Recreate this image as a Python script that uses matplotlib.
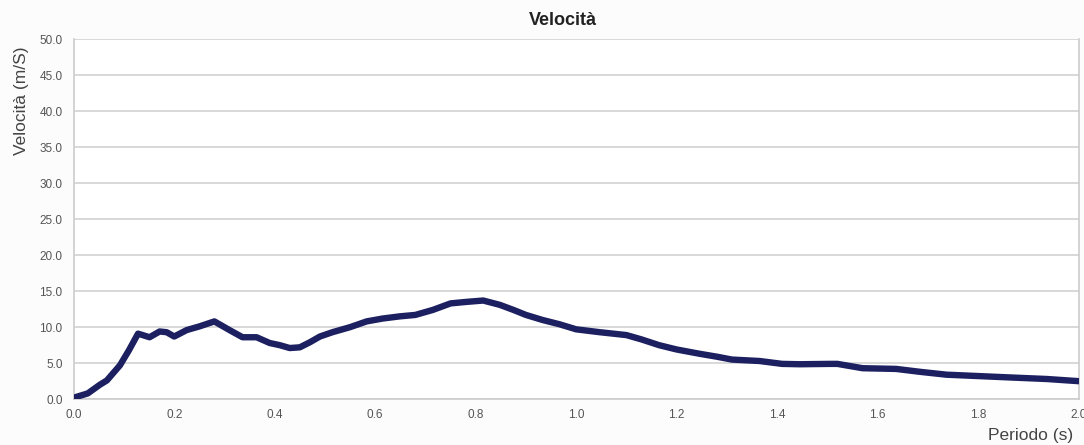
import matplotlib
matplotlib.use("Agg")
import matplotlib.pyplot as plt
from matplotlib.ticker import FormatStrFormatter

periodo = [0.0, 0.028, 0.052, 0.066, 0.092, 0.11, 0.128, 0.151, 0.171, 0.185, 0.2,
           0.225, 0.25, 0.28, 0.31, 0.336, 0.364, 0.39, 0.41, 0.43, 0.45, 0.47,
           0.49, 0.515, 0.55, 0.583, 0.615, 0.649, 0.68, 0.715, 0.75, 0.78, 0.815,
           0.848, 0.875, 0.9, 0.933, 0.967, 1.0, 1.047, 1.1, 1.13, 1.165, 1.2,
           1.246, 1.28, 1.31, 1.365, 1.41, 1.445, 1.504, 1.52, 1.57, 1.637, 1.684,
           1.737, 1.803, 1.869, 1.937, 2.0]
velocita = [0.2, 0.8, 2.0, 2.6, 4.7, 6.8, 9.1, 8.6, 9.4, 9.3, 8.7,
            9.6, 10.1, 10.8, 9.6, 8.6, 8.6, 7.8, 7.5, 7.1, 7.2, 7.9,
            8.7, 9.3, 10.0, 10.8, 11.2, 11.5, 11.7, 12.4, 13.3, 13.5, 13.7,
            13.1, 12.4, 11.7, 11.0, 10.4, 9.7, 9.3, 8.9, 8.3, 7.5, 6.9,
            6.3, 5.9, 5.5, 5.3, 4.9, 4.85, 4.9, 4.9, 4.3, 4.2, 3.8,
            3.4, 3.2, 3.0, 2.8, 2.5]
x_ticks = [0.0, 0.2, 0.4, 0.6, 0.8, 1.0, 1.2, 1.4, 1.6, 1.8, 2.0]
y_ticks = [0, 5, 10, 15, 20, 25, 30, 35, 40, 45, 50]

plt.rcParams["font.family"] = ["Liberation Sans", "DejaVu Sans"]

fig = plt.figure(figsize=(10.84, 4.45), dpi=100)
fig.patch.set_facecolor("#fcfcfc")
ax = fig.add_axes([0.068, 0.103, 0.927, 0.809])
ax.set_facecolor("white")

ax.plot(periodo, velocita, color="#1c2060", linewidth=4.6, solid_joinstyle="round",
        solid_capstyle="round", zorder=3)

ax.set_xlim(0, 2.0)
ax.set_ylim(0, 50)
ax.set_xticks(x_ticks)
ax.set_yticks(y_ticks)
ax.xaxis.set_major_formatter(FormatStrFormatter("%.1f"))
ax.yaxis.set_major_formatter(FormatStrFormatter("%.1f"))
ax.tick_params(axis="both", labelsize=8.5, length=0, labelcolor="#555555")
ax.tick_params(axis="x", pad=7)
ax.tick_params(axis="y", pad=8)

ax.grid(axis="y", color="#d6d6d6", linewidth=1.3)
ax.set_axisbelow(True)
for side in ["left", "bottom", "right"]:
    ax.spines[side].set_color("#cccccc")
    ax.spines[side].set_linewidth(1.2)
ax.spines["top"].set_visible(False)

fig.text(0.519, 0.972, "Velocità", fontsize=13, fontweight="bold", color="#222222",
         ha="center", va="top")
fig.text(0.020, 0.773, "Velocità (m/S)", fontsize=12.5, color="#444444",
         rotation=90, ha="center", va="center")
fig.text(0.990, 0.004, "Periodo (s)", fontsize=12.5, color="#444444",
         ha="right", va="bottom")

fig.savefig("out.png", dpi=100, facecolor=fig.get_facecolor())
